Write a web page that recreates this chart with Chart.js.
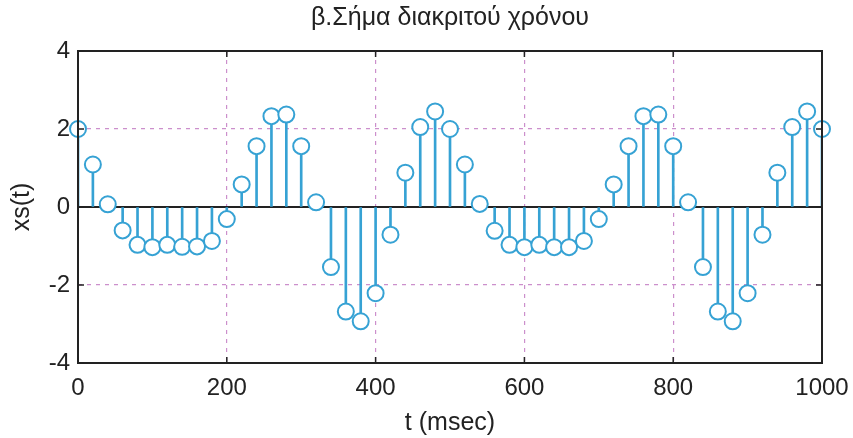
<!DOCTYPE html>
<html>
<head>
<meta charset="utf-8">
<script src="https://cdn.jsdelivr.net/npm/chart.js@4/dist/chart.umd.min.js"></script>
<style>
  html, body { margin: 0; padding: 0; background: #ffffff; }
  #wrap { width: 853px; height: 438px; }
</style>
</head>
<body>
<div id="wrap"><canvas id="c" width="853" height="438"></canvas></div>
<script>
// ---- data ----
const titleText = "β.Σήμα διακριτού χρόνου";
const xTitle = "t (msec)";
const yTitle = "xs(t)";
const tMsec = [0,20,40,60,80,100,120,140,160,180,200,220,240,260,280,300,320,340,360,380,400,420,440,460,480,
               500,520,540,560,580,600,620,640,660,680,700,720,740,760,780,800,820,840,860,880,900,920,940,960,980,1000];
const xsValues = [2.0,1.09,0.07,-0.6,-0.97,-1.03,-0.97,-1.02,-1.01,-0.87,-0.31,0.58,1.56,2.33,2.37,1.56,0.12,-1.54,-2.68,-2.93,-2.21,-0.71,0.88,2.05,2.45,
                  2.0,1.09,0.08,-0.61,-0.97,-1.03,-0.97,-1.03,-1.03,-0.87,-0.31,0.58,1.56,2.33,2.37,1.56,0.12,-1.54,-2.68,-2.93,-2.21,-0.71,0.88,2.05,2.45,2.0];
const xTicks = [0,200,400,600,800,1000];
const yTicks = [-4,-2,0,2,4];
const baseline = [0, 0];
const baselineT = [0, 1000];

// ---- styling ----
const STEM = '#36a2d4';
const GRID = '#cc8fcc';
const AXIS = '#222222';
const FONT = "'Liberation Sans', Arial, sans-serif";

const pts = tMsec.map((t, i) => ({x: t, y: xsValues[i]}));

const framePlugin = {
  id: 'frame',
  afterDraw(chart) {
    const {ctx, chartArea: a, scales} = chart;
    ctx.save();
    ctx.strokeStyle = AXIS;
    ctx.lineWidth = 2;
    ctx.strokeRect(a.left, a.top, a.right - a.left, a.bottom - a.top);
    ctx.lineWidth = 1.5;
    const L = 6;
    ctx.beginPath();
    xTicks.forEach(v => {
      const px = scales.x.getPixelForValue(v);
      ctx.moveTo(px, a.bottom); ctx.lineTo(px, a.bottom - L);
      ctx.moveTo(px, a.top); ctx.lineTo(px, a.top + L);
    });
    yTicks.forEach(v => {
      const py = scales.y.getPixelForValue(v);
      ctx.moveTo(a.left, py); ctx.lineTo(a.left + L, py);
      ctx.moveTo(a.right, py); ctx.lineTo(a.right - L, py);
    });
    ctx.stroke();
    ctx.restore();
  }
};

new Chart(document.getElementById('c'), {
  data: {
    datasets: [
      {
        type: 'line',
        data: baselineT.map((t, i) => ({x: t, y: baseline[i]})),
        borderColor: AXIS,
        borderWidth: 2,
        pointRadius: 0,
        order: 4
      },
      {
        type: 'bar',
        data: pts,
        backgroundColor: STEM,
        borderWidth: 0,
        barThickness: 2,
        grouped: false,
        order: 3
      },
      {
        type: 'scatter',
        data: pts,
        pointStyle: 'circle',
        pointRadius: 8,
        pointBorderWidth: 2,
        pointBorderColor: STEM,
        pointBackgroundColor: '#ffffff',
        clip: false,
        order: 1
      }
    ]
  },
  options: {
    responsive: false,
    animation: false,
    events: [],
    layout: { padding: { left: 0, right: 31, top: 0, bottom: 0 } },
    plugins: {
      legend: { display: false },
      tooltip: { enabled: false },
      title: {
        display: true,
        fullSize: false,
        text: titleText,
        color: AXIS,
        font: { family: FONT, size: 25, weight: 'normal' },
        padding: { top: 3, bottom: 18 }
      }
    },
    scales: {
      x: {
        type: 'linear',
        min: 0, max: 1000,
        offset: false,
        afterFit(s) { s.height = 75; s.paddingLeft = 0; s.paddingRight = 0; },
        afterBuildTicks(s) { s.ticks = xTicks.map(v => ({value: v})); },
        border: { display: false, dash: [4, 5] },
        grid: { color: GRID, lineWidth: 1.2, drawTicks: false, offset: false },
        ticks: { color: AXIS, padding: 11, font: { family: FONT, size: 24 }, callback: v => String(v) },
        title: { display: true, text: xTitle, color: AXIS, font: { family: FONT, size: 25 }, padding: { top: 0, bottom: 0 } }
      },
      y: {
        type: 'linear',
        min: -4, max: 4,
        afterFit(s) { s.width = 78; },
        afterBuildTicks(s) { s.ticks = yTicks.map(v => ({value: v})); },
        border: { display: false, dash: [4, 5] },
        grid: { color: GRID, lineWidth: 1.2, drawTicks: false },
        ticks: { color: AXIS, padding: 8, font: { family: FONT, size: 24 }, callback: v => String(v) },
        title: { display: true, text: yTitle, color: AXIS, font: { family: FONT, size: 25 }, padding: { top: 7, bottom: 0 } }
      }
    }
  },
  plugins: [framePlugin]
});
</script>
</body>
</html>
